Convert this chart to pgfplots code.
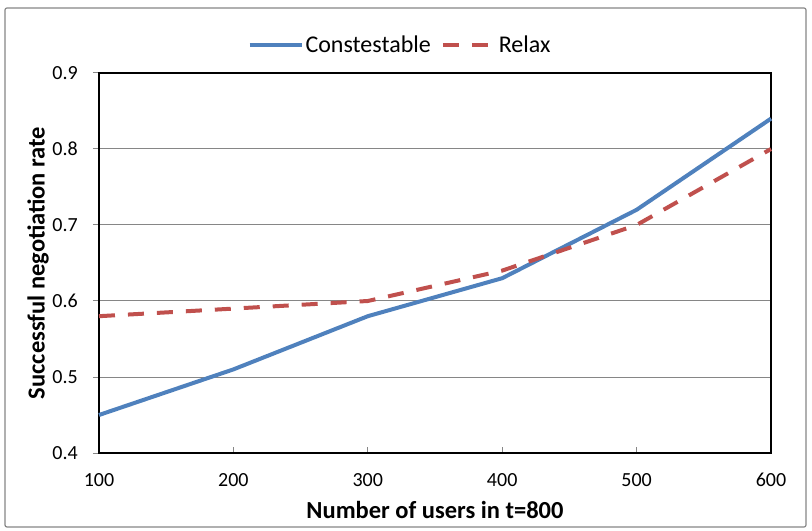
\documentclass[border=0pt]{standalone}
\usepackage{fontspec}
\setmainfont{Carlito}
\usepackage{pgfplots}
\pgfplotsset{compat=1.18}
\definecolor{xlblue}{HTML}{4F81BD}
\definecolor{xlred}{HTML}{C0504D}
\definecolor{xlgrid}{HTML}{868686}
\begin{document}
\begin{tikzpicture}
\begin{axis}[
  scale only axis,
  width=672bp, height=380bp,
  xmin=100, xmax=600, ymin=0.4, ymax=0.9,
  xtick={100,200,300,400,500,600},
  xticklabels={100,200,300,400,500,600},
  ytick={0.4,0.5,0.6,0.7,0.8,0.9},
  yticklabels={0.4,0.5,0.6,0.7,0.8,0.9},
  xtick pos=bottom, ytick pos=left,
  tick align=inside,
  major tick length=6bp,
  ytick style={xshift=-6bp, draw=xlgrid, line width=1bp},
  xtick style={draw=xlgrid, line width=1bp},
  ymajorgrids,
  grid style={draw=xlgrid, line width=1bp},
  axis line style={black, line width=1.2bp},
  yticklabel style={font=\fontsize{20bp}{24bp}\selectfont, inner sep=0pt, anchor=east, xshift=-21bp},
  xticklabel style={font=\fontsize{20bp}{24bp}\selectfont, inner sep=0pt, anchor=north, yshift=-20bp},
  xlabel={\textbf{Number of users in t=800}},
  ylabel={\textbf{Successful negotiation rate}},
  xlabel style={font=\fontsize{24.5bp}{28bp}\selectfont, at={(axis description cs:0.5,-0.15)}, anchor=center},
  ylabel style={font=\fontsize{24.5bp}{28bp}\selectfont, at={(axis description cs:-0.0908,0.5)}, anchor=center},
  legend columns=2,
  legend style={draw=none, fill=none, font=\fontsize{24bp}{28bp}\selectfont,
    at={(axis description cs:0.448,1.0737)}, anchor=center,
    /tikz/every even column/.append style={column sep=8bp},
    inner sep=0pt},
  legend image code/.code={\draw[#1] (0bp,0bp) -- (52bp,0bp);},
  clip=false,
]
\addplot[xlblue, line width=4bp] coordinates {
(100,0.45) (200,0.51) (300,0.58) (400,0.63) (500,0.72) (600,0.84)};
\addlegendentry{Constestable}
\addplot[xlred, line width=4bp, dash pattern=on 16bp off 13bp] coordinates {
(100,0.58) (200,0.59) (300,0.60) (400,0.64) (500,0.70) (600,0.80)};
\addlegendentry{Relax}
\end{axis}
\draw[xlgrid, line width=1.2bp, rounded corners=2bp] (-94bp,-74bp) rectangle (707bp,445bp);
\path[use as bounding box] (-99bp,-78bp) rectangle (713bp,453bp);
\end{tikzpicture}
\end{document}
